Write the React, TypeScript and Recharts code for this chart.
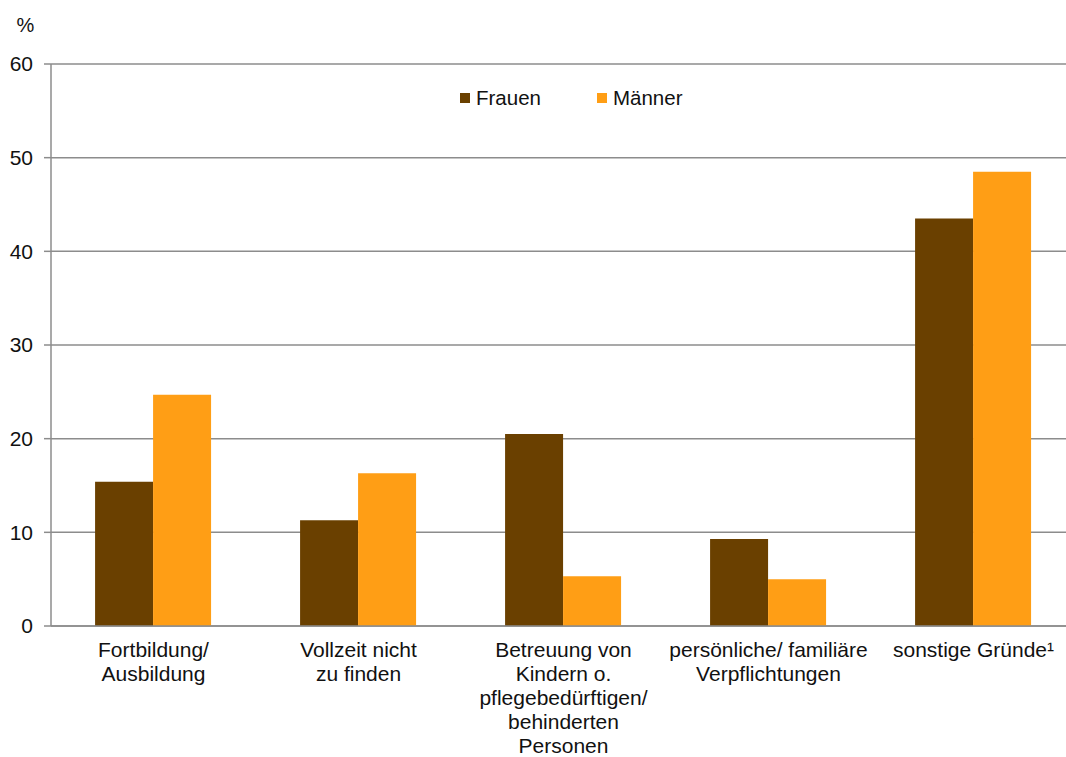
import React from 'react';
import { BarChart, Bar, XAxis, YAxis, CartesianGrid, Legend } from 'recharts';

const categories = [
  'Fortbildung/\nAusbildung',
  'Vollzeit nicht\nzu finden',
  'Betreuung von\nKindern o.\npflegebedürftigen/\nbehinderten\nPersonen',
  'persönliche/ familiäre\nVerpflichtungen',
  'sonstige Gründe¹',
];
const frauen = [15.4, 11.3, 20.5, 9.3, 43.5];
const maenner = [24.7, 16.3, 5.3, 5.0, 48.5];
const yTicks = [0, 10, 20, 30, 40, 50, 60];
const boundaryTicks = [0, 1, 2, 3, 4, 5];

const data = categories.map((name, i) => ({ name, frauen: frauen[i], maenner: maenner[i] }));

const FONT = 'Liberation Sans, Arial, sans-serif';
const GRAY = '#8c8c8c';
const BROWN = '#6a4000';
const ORANGE = '#ff9e15';

function CategoryTick(props: any) {
  const { x, y, payload } = props;
  const lines = String(payload.value).split('\n');
  return (
    <text x={x} y={y} textAnchor="middle" fontFamily={FONT} fontSize={21} fill="#111">
      {lines.map((l, i) => (
        <tspan key={i} x={x} dy={i === 0 ? 15 : 24}>
          {l}
        </tspan>
      ))}
    </text>
  );
}

function LegendContent() {
  const item = (color: string, label: string, ml: number) => (
    <span style={{ display: 'inline-flex', alignItems: 'center', marginLeft: ml }}>
      <span style={{ width: 10, height: 10, background: color, display: 'inline-block', marginRight: 6 }} />
      <span>{label}</span>
    </span>
  );
  return (
    <div style={{ fontFamily: FONT, fontSize: 20.5, color: '#111', whiteSpace: 'nowrap', lineHeight: '24px' }}>
      {item(BROWN, 'Frauen', 0)}
      {item(ORANGE, 'Männer', 56)}
    </div>
  );
}

export default function App() {
  return (
    <div style={{ position: 'absolute', left: 0, top: 0, width: 1066, height: 757, overflow: 'hidden', background: '#fff' }}>
      <BarChart
        width={1076}
        height={757}
        data={data}
        margin={{ top: 64, right: 0, bottom: 0, left: 0 }}
        barCategoryGap="21.5%"
        barGap={0}
      >
        <CartesianGrid vertical={false} stroke={GRAY} strokeWidth={1.5} />
        <XAxis
          xAxisId="bounds"
          type="number"
          domain={[0, 5]}
          ticks={boundaryTicks}
          tick={false}
          tickSize={8}
          height={8}
          axisLine={{ stroke: GRAY, strokeWidth: 1.5 }}
          tickLine={{ stroke: GRAY, strokeWidth: 1.5 }}
        />
        <XAxis
          xAxisId="cat"
          dataKey="name"
          interval={0}
          axisLine={false}
          tickLine={false}
          height={123}
          tick={<CategoryTick />}
        />
        <YAxis
          width={51}
          domain={[0, 60]}
          ticks={yTicks}
          interval={0}
          tickSize={7}
          tickMargin={11}
          axisLine={{ stroke: GRAY, strokeWidth: 1.5 }}
          tickLine={{ stroke: GRAY, strokeWidth: 1.5 }}
          tick={{ fontFamily: FONT, fontSize: 21, fill: '#111' }}
          label={{ value: '%', position: 'top', offset: 32, fontFamily: FONT, fontSize: 20, fill: '#111' }}
        />
        <Legend
          verticalAlign="middle"
          align="center"
          content={<LegendContent />}
          wrapperStyle={{ top: 84, left: 460, width: 'auto' }}
        />
        <Bar xAxisId="cat" dataKey="frauen" name="Frauen" fill={BROWN} isAnimationActive={false} />
        <Bar xAxisId="cat" dataKey="maenner" name="Männer" fill={ORANGE} isAnimationActive={false} />
      </BarChart>
    </div>
  );
}
